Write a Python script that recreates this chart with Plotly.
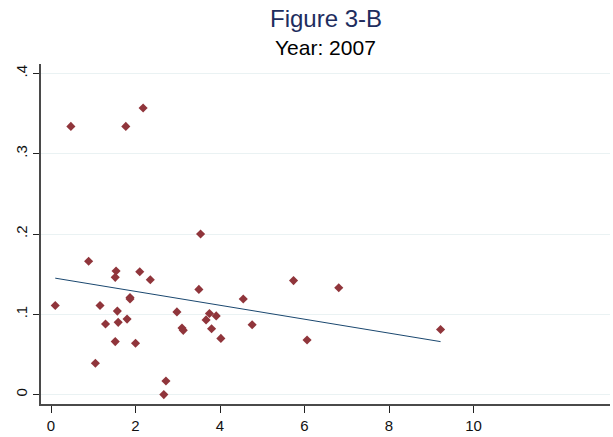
import plotly.graph_objects as go

# Scatter data (x, y)
x_vals = [0.10, 0.47, 0.89, 1.05, 1.16, 1.29, 1.52, 1.52, 1.54, 1.57, 1.59, 1.77, 1.80,
          1.87, 1.87, 2.00, 2.10, 2.18, 2.35, 2.67, 2.72, 2.98, 3.10, 3.13, 3.50, 3.54,
          3.67, 3.75, 3.80, 3.91, 4.02, 4.55, 4.76, 5.74, 6.06, 6.81, 9.22]
y_vals = [0.111, 0.334, 0.166, 0.039, 0.111, 0.088, 0.146, 0.066, 0.154, 0.104, 0.090,
          0.334, 0.094, 0.121, 0.119, 0.064, 0.153, 0.357, 0.143, 0.000, 0.017, 0.103,
          0.083, 0.080, 0.131, 0.200, 0.093, 0.101, 0.082, 0.098, 0.070, 0.119, 0.087,
          0.142, 0.068, 0.133, 0.081]

# Fitted line endpoints
fit_x = [0.10, 9.22]
fit_y = [0.145, 0.066]

x_ticks = [0, 2, 4, 6, 8, 10]
y_ticks = [0, 0.1, 0.2, 0.3, 0.4]
y_tick_labels = ["0", ".1", ".2", ".3", ".4"]

FONT = "Liberation Sans, Arial, sans-serif"

fig = go.Figure()
fig.add_trace(go.Scatter(
    x=x_vals, y=y_vals, mode="markers",
    marker=dict(symbol="diamond", size=7, color="#90353b", line=dict(width=0)),
    showlegend=False,
))
fig.add_trace(go.Scatter(
    x=fit_x, y=fit_y, mode="lines",
    line=dict(color="#1a476f", width=1),
    showlegend=False,
))

axis_font = dict(family=FONT, size=15, color="#111111")

M_L, M_R, M_T, M_B = 41, 3, 64, 33
plot_h = 437 - M_T - M_B

fig.update_layout(
    width=613, height=437,
    margin=dict(l=M_L, r=M_R, t=M_T, b=M_B, pad=0),
    paper_bgcolor="white", plot_bgcolor="white",
    font=dict(family=FONT),
    xaxis=dict(
        range=[-0.237, 13.23], tickvals=x_ticks, ticktext=[str(t) for t in x_ticks],
        showgrid=False, zeroline=False, showline=True, linecolor="#4a4a4a", linewidth=1.5,
        ticks="outside", ticklen=7, tickcolor="#222222", tickfont=axis_font,
    ),
    yaxis=dict(
        range=[-0.0117, 0.4117], tickvals=y_ticks, ticktext=y_tick_labels,
        showgrid=True, gridcolor="#eaf2f3", gridwidth=1, zeroline=False,
        showline=True, linecolor="#4a4a4a", linewidth=1.5,
        ticks="outside", ticklen=6, tickcolor="#222222", tickfont=axis_font,
        tickangle=-90,
    ),
    annotations=[
        dict(text="Figure 3-B", x=0.5, y=1 + (M_T - 18) / plot_h, xref="paper", yref="paper",
             yanchor="middle", showarrow=False,
             font=dict(size=24, color="#1e2d5e", family=FONT)),
        dict(text="Year: 2007", x=0.5, y=1 + (M_T - 48) / plot_h, xref="paper", yref="paper",
             yanchor="middle", showarrow=False,
             font=dict(size=21, color="#000000", family=FONT)),
    ],
)

fig.write_html("out.html", config={"displayModeBar": False},
               post_script="document.body.style.margin='0';")
